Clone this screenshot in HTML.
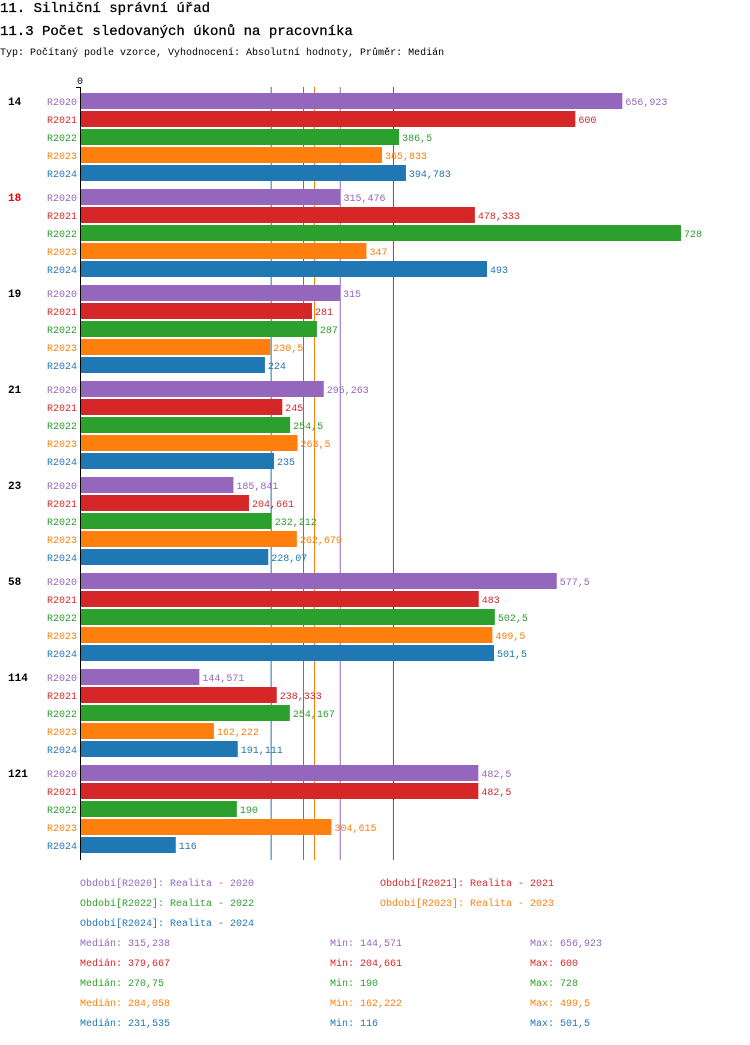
<!DOCTYPE html>
<html><head><meta charset="utf-8">
<style>
body{margin:0;background:#fff;width:750px;height:1040px;overflow:hidden;font-family:"Liberation Mono","DejaVu Sans Mono",monospace;}
svg text{font-family:"Liberation Mono","DejaVu Sans Mono",monospace;}
</style></head><body>
<svg id="chart" width="750" height="1040" xmlns="http://www.w3.org/2000/svg">
<text x="0" y="12" font-size="14" fill="#000" stroke="#000" stroke-width="0.3">11. Silniční správní úřad</text>
<text x="0" y="35" font-size="14" fill="#000" stroke="#000" stroke-width="0.3">11.3 Počet sledovaných úkonů na pracovníka</text>
<text x="0" y="55" font-size="10" fill="#000">Typ: Počítaný podle vzorce, Vyhodnocení: Absolutní hodnoty, Průměr: Medián</text>
<g id="plot"></g>
</svg>
<script>
const categories=["14","18","19","21","23","58","114","121"];
const highlight=["18"];
const seriesNames=["R2020","R2021","R2022","R2023","R2024"];
const colors=["#9467bd","#d62728","#2ca02c","#ff7f0e","#1f77b4"];
const r2020=[656.923,315.476,315,295.263,185.841,577.5,144.571,482.5];
const r2021=[600,478.333,281,245,204.661,483,238.333,482.5];
const r2022=[386.5,728,287,254.5,232.212,502.5,254.167,190];
const r2023=[365.833,347,230.5,263.5,262.679,499.5,162.222,304.615];
const r2024=[394.783,493,224,235,228.07,501.5,191.111,116];
const medians=[315.238,379.667,270.75,284.058,231.535];
const mins=[144.571,204.661,190,162.222,116];
const maxs=[656.923,600,728,499.5,501.5];
const series=[r2020,r2021,r2022,r2023,r2024];
const NS="http://www.w3.org/2000/svg";
const g=document.getElementById('plot');
const x0=80,scale=601/728;
const xs=v=>x0+v*scale;
const fmt=v=>String(Math.round(v*1000)/1000).replace('.',',');
function mk(t,a,txt){const e=document.createElementNS(NS,t);for(const k in a)e.setAttribute(k,a[k]);if(txt!==undefined)e.textContent=txt;g.appendChild(e);return e;}
let el=mk('text',{x:77,y:84,'font-size':10,fill:'#000'},'0');


medians.forEach((m,i)=>{
  let l=mk('line',{x1:xs(m),x2:xs(m),y1:87,y2:860,stroke:colors[i],'stroke-width':1});
  
  
});
categories.forEach((c,ci)=>{
  const gy=93+ci*96;
  let t=mk('text',{x:8,y:gy+12,'font-size':11,'font-weight':'bold',fill:highlight.includes(c)?'#e00':'#000'},c);
  
  
  series.forEach((s,si)=>{
    const y=gy+si*18;
    let l=mk('text',{x:47,y:y+12,'font-size':10,fill:colors[si]},seriesNames[si]);
    
    
    let r=mk('rect',{x:x0+1,y:y,width:xs(s[ci])-x0-1,height:16,fill:colors[si]});
    
    
    let v=mk('text',{x:xs(s[ci])+3,y:y+12,'font-size':10,fill:colors[si]},fmt(s[ci]));
    
    
  });
});
let ax=mk('line',{x1:80.5,x2:80.5,y1:87,y2:860,stroke:'#000','stroke-width':1});


let tk=mk('line',{x1:76,x2:81,y1:87.5,y2:87.5,stroke:'#000','stroke-width':1});


const legPos=[[80,886],[380,886],[80,906],[380,906],[80,926]];
seriesNames.forEach((n,i)=>{
  let t=mk('text',{x:legPos[i][0],y:legPos[i][1],'font-size':10,fill:colors[i]},'Období['+n+']: Realita - '+n.slice(1));
  
  
  const y=946+i*20;
  let a=mk('text',{x:80,y:y,'font-size':10,fill:colors[i]},'Medián: '+fmt(medians[i]));
  
  
  let b=mk('text',{x:330,y:y,'font-size':10,fill:colors[i]},'Min: '+fmt(mins[i]));
  
  
  let c=mk('text',{x:530,y:y,'font-size':10,fill:colors[i]},'Max: '+fmt(maxs[i]));
  
  
});
</script>
</body></html>
